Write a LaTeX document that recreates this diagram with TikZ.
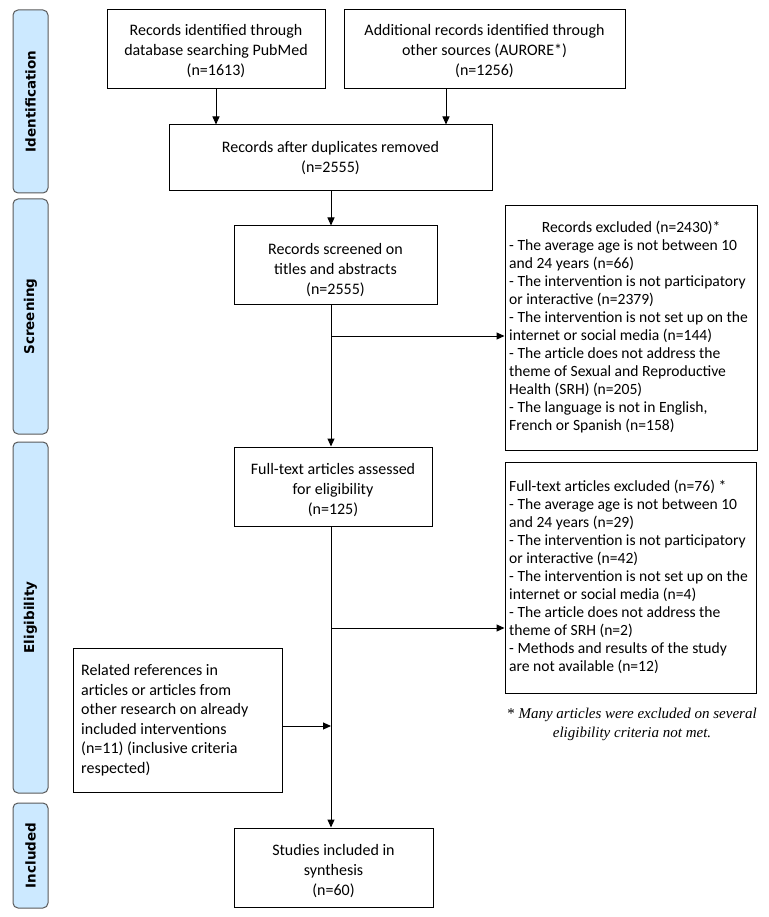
\documentclass[tikz,border=0pt]{standalone}
\usepackage{fontspec}
\setmainfont{Carlito}
\newfontfamily\labelfont{DejaVu Sans}
\newfontfamily\notefont{Liberation Serif}
\usetikzlibrary{arrows.meta,calc}
\definecolor{phaseblue}{HTML}{CCE9FF}
\definecolor{phaseedge}{HTML}{5A5A5A}
\begin{document}
\begin{tikzpicture}[x=1pt,y=-1pt,
  box/.style={draw=black, line width=1pt, inner sep=0pt, rectangle},
  txt/.style={inner sep=0pt, font=\fontsize{16}{20}\selectfont, align=center},
  ltxt/.style={inner sep=0pt, font=\fontsize{16}{19.5}\selectfont, align=left, anchor=west},
  extxt/.style={inner sep=0pt, font=\fontsize{15.6}{18}\selectfont, align=left, anchor=west},
  phase/.style={draw=phaseedge, fill=phaseblue, line width=1pt, rounded corners=5pt, inner sep=0pt, minimum width=35pt},
  phasetxt/.style={rotate=90, inner sep=0pt, font=\labelfont\bfseries\fontsize{13.5}{15}\selectfont},
  arr/.style={line width=1pt, -{Triangle[length=8pt,width=7pt]}},
  note/.style={inner sep=0pt, align=center, font=\notefont\itshape\fontsize{15}{19}\selectfont}]
\useasboundingbox (0,0) rectangle (768,917);
\fill[white] (0,0) rectangle (768,917);

% phase bars
\node[phase, minimum height=183pt] (pid) at (30.5,101.5) {};
\node[phasetxt] (pidt) at (pid) {Identification};
\node[phase, minimum height=235pt] (pscr) at (30.5,316.5) {};
\node[phasetxt] (pscrt) at (pscr) {Screening};
\node[phase, minimum height=351pt] (peli) at (30.5,617.5) {};
\node[phasetxt] (pelit) at (peli) {Eligibility};
\node[phase, minimum height=105pt] (pinc) at (30.5,855.5) {};
\node[phasetxt] (pinct) at (pinc) {Included};

% boxes
\node[box, minimum width=218pt, minimum height=79pt] (b1) at (216,49.5) {};
\node[txt] (b1t) at (216,51.5) {Records identified through\\database searching PubMed\\(n=1613)};
\node[box, minimum width=281pt, minimum height=79pt] (b2) at (484.5,49.5) {};
\node[txt] (b2t) at (484.5,51.5) {Additional records identified through\\other sources (AURORE*)\\(n=1256)};
\node[box, minimum width=323pt, minimum height=66pt] (b3) at (330.5,158) {};
\node[txt] (b3t) at (330.5,158.5) {Records after duplicates removed\\(n=2555)};
\node[box, minimum width=203pt, minimum height=78pt] (b4) at (335.5,265) {};
\node[txt] (b4t) at (335.5,270) {Records screened on\\titles and abstracts\\(n=2555)};
\node[box, minimum width=198pt, minimum height=79pt] (b5) at (333,486.5) {};
\node[txt] (b5t) at (333,490) {Full-text articles assessed\\for eligibility\\(n=125)};
\node[box, minimum width=199pt, minimum height=79pt] (b6) at (333.5,867.5) {};
\node[txt] (b6t) at (333.5,871) {Studies included in\\synthesis\\(n=60)};

\node[box, minimum width=252pt, minimum height=244pt] (e1) at (631,328) {};
\node[extxt] (e1t) at (509,327) {\makebox[244pt]{Records excluded (n=2430)*}\\
- The average age is not between 10\\
and 24 years (n=66)\\
- The intervention is not participatory\\
or interactive (n=2379)\\
- The intervention is not set up on the\\
internet or social media (n=144)\\
- The article does not address the\\
theme of Sexual and Reproductive\\
Health (SRH) (n=205)\\
- The language is not in English,\\
French or Spanish (n=158)};

\node[box, minimum width=251pt, minimum height=231pt] (e2) at (630.5,577.5) {};
\node[extxt] (e2t) at (509,577) {Full-text articles excluded (n=76) *\\
- The average age is not between 10\\
and 24 years (n=29)\\
- The intervention is not participatory\\
or interactive (n=42)\\
- The intervention is not set up on the\\
internet or social media (n=4)\\
- The article does not address the\\
theme of SRH (n=2)\\
- Methods and results of the study\\
are not available (n=12)};

\node[note] (fn) at (632,724) {{\upshape*} Many articles were excluded on several\\eligibility criteria not met.};

\node[box, minimum width=209pt, minimum height=144pt] (rel) at (177.5,720) {};
\node[ltxt] (relt) at (81,720) {Related references in\\
articles or articles from\\
other research on already\\
included interventions\\
(n=11) (inclusive criteria\\
respected)};

% connectors
\coordinate (mx) at (331,0);
\coordinate (a2) at (446,0);
\coordinate (s1) at (331,336);
\coordinate (s2) at (331,628);
\coordinate (s3) at (331,726);
\draw[arr] (b1.south) -- (b1.south |- b3.north);
\draw[arr] (b2.south -| a2) -- (b3.north -| a2);
\draw[arr] (b3.south -| mx) -- (b4.north -| mx);
\draw[arr] (b4.south -| mx) -- (b5.north -| mx);
\draw[arr] (s1) -- (s1 -| e1.west);
\draw[arr] (b5.south -| mx) -- (b6.north -| mx);
\draw[arr] (s2) -- (s2 -| e2.west);
\draw[arr] (s3 -| rel.east) -- (s3);
\end{tikzpicture}
\end{document}
